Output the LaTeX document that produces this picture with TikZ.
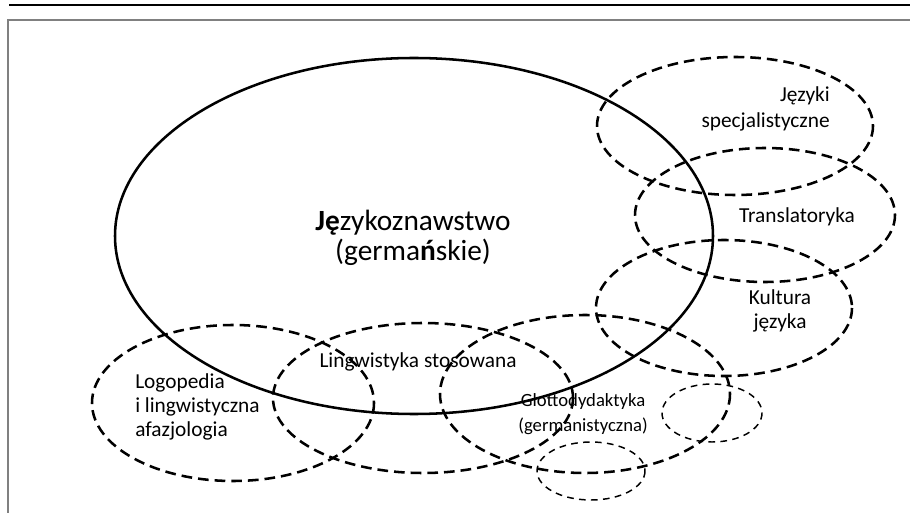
\documentclass[tikz,border=0pt]{standalone}
\usepackage{fontspec}
\setmainfont{Carlito}
\usetikzlibrary{positioning}

\begin{document}
\begin{tikzpicture}[x=0.75pt, y=-0.75pt,
    field/.style={draw, line width=1.9pt, dash pattern=on 8pt off 4.5pt},
    smallfield/.style={draw, line width=1.1pt, dash pattern=on 5pt off 4pt},
    label/.style={align=center, inner sep=0pt, font=\fontsize{16}{18}\selectfont}
]
    \useasboundingbox (0,0) rectangle (910,513);

    % Frame
    \draw[line width=1.6pt] (9,5) -- (910,5);
    \draw[gray, line width=0.8pt] (8,513) -- (8,20) -- (910,20);

    % Centres
    \coordinate (jez) at (414,236);
    \coordinate (spec) at (735,126);
    \coordinate (trans) at (765,215);
    \coordinate (kult) at (724,308);
    \coordinate (logo) at (233,403);
    \coordinate (stos) at (423,398);
    \coordinate (glot) at (585,394);
    \coordinate (glotA) at (591,471);
    \coordinate (glotB) at (712,413);

    % Fields
    \draw[line width=1.9pt] (jez) ellipse [x radius=299, y radius=178];
    \draw[field] (spec) ellipse [x radius=138, y radius=69];
    \draw[field] (trans) ellipse [x radius=130, y radius=67];
    \draw[field] (kult) ellipse [x radius=128, y radius=68];
    \draw[field] (logo) ellipse [x radius=141, y radius=78];
    \draw[field] (stos) ellipse [x radius=150, y radius=75];
    \draw[field] (glot) ellipse [x radius=145, y radius=79];
    \draw[smallfield] (glotA) ellipse [x radius=54, y radius=29];
    \draw[smallfield] (glotB) ellipse [x radius=50, y radius=29];

    % Labels
    \node[label, font=\fontsize{22}{23}\selectfont] (jezL) at (413,238)
        {{\bfseries Ję}zykoznawstwo\\(germa{\bfseries ń}skie)};
    \node[label, align=right, anchor=east, font=\fontsize{16}{20}\selectfont] (specL) at (830,109)
        {Języki\\specjalistyczne};
    \node[label] (transL) at (797,217) {Translatoryka};
    \node[label] (kultL) at (780,311) {Kultura\\języka};
    \node[label] (stosL) at (418,362) {Lingwistyka stosowana};
    \node[label, align=left, anchor=west] (logoL) at (135,407)
        {Logopedia\\i lingwistyczna\\afazjologia};
    \node[label, font=\fontsize{14}{19}\selectfont] (glotL) at (583,414)
        {Glottodydaktyka\\(germanistyczna)};
\end{tikzpicture}
\end{document}
